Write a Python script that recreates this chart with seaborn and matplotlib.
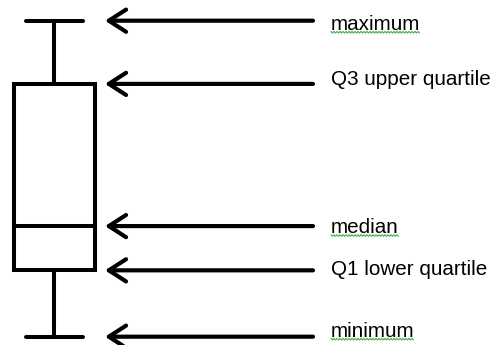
import matplotlib
matplotlib.use('Agg')
import matplotlib.pyplot as plt
import seaborn as sns
import numpy as np
import pandas as pd

# five-number summary (arbitrary units, min..max = 0..100)
stat_names = ["minimum", "Q1 lower quartile", "median", "Q3 upper quartile", "maximum"]
stat_values = [0, 21, 35, 80, 100]
# words flagged by the spell checker in the original drawing
squiggly = ["minimum", "median", "maximum"]

# vertical text offsets (points) of each label baseline below its arrow
label_drop = [0, -3.6, -5.0, -0.7, -6.5]

sns.set_style("white")
plt.rcParams['font.family'] = ['Liberation Sans', 'DejaVu Sans']

fig = plt.figure(figsize=(4.92, 3.45), dpi=100)
ax = fig.add_axes([0, 0, 1, 1])

df = pd.DataFrame({"value": stat_values})
sns.boxplot(data=df, y="value", whis=(0, 100), width=0.8, color="white",
            linecolor="black", linewidth=2.9, capwidths=0.56, ax=ax)

ax.set_xlim(-0.538, 4.321)
ax.set_ylim(-2.63, 106.55)
ax.axis("off")

trans = ax.get_yaxis_transform()
texts = []
for name, v, dy in zip(stat_names, stat_values, label_drop):
    ax.annotate("", xy=(105 / 492, v), xytext=(313 / 492, v),
                xycoords=trans, textcoords=trans,
                arrowprops=dict(arrowstyle="->,head_length=0.62,head_width=0.4",
                                lw=3.0, color="black", mutation_scale=20,
                                shrinkA=0, shrinkB=0))
    t = ax.annotate(name, xy=(331 / 492, v), xycoords=trans,
                    xytext=(0, dy), textcoords="offset points",
                    fontsize=14.9, va="baseline", ha="left", color="black")
    texts.append((name, t))

# green wavy spell-check underline below flagged words
fig.canvas.draw()
renderer = fig.canvas.get_renderer()
for name, t in texts:
    if name not in squiggly:
        continue
    bb = t.get_window_extent(renderer)
    xs = np.arange(bb.x0, bb.x1, 1.5)
    base_y = bb.y0 + 1.5
    ys = base_y + np.where(np.arange(len(xs)) % 2 == 0, 0.8, -0.8)
    ax.plot(xs, ys, color="#3cb043", lw=0.8, transform=None)

fig.savefig("out.png", dpi=100)
